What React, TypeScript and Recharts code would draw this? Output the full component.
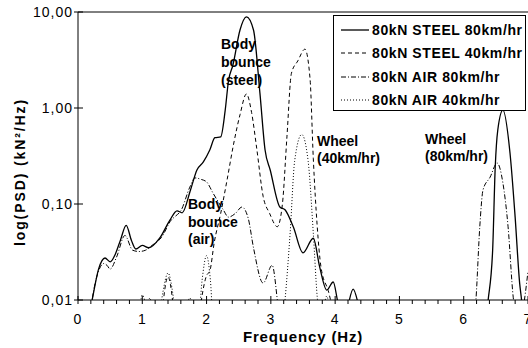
import React from "react";
import { LineChart, Line, XAxis, YAxis, ReferenceLine, Legend } from "recharts";

const FONT = '"Liberation Sans", Arial, sans-serif';

// PSD (kN²/Hz). Values under 0.01 just pull the curve below the axis.
const steel80Freq = [0.1, 0.22, 0.32, 0.42, 0.5, 0.58, 0.66, 0.75, 0.83, 0.9, 1.0, 1.1, 1.27, 1.43, 1.54, 1.62, 1.75, 1.85, 1.95, 2.05, 2.13, 2.22, 2.29, 2.34, 2.41, 2.52, 2.62, 2.73, 2.83, 2.91, 2.99, 3.14, 3.22, 3.35, 3.5, 3.66, 3.76, 3.87, 3.97, 4.05, 4.15, 4.28, 4.38, 4.5, 6.3, 6.38, 6.45, 6.49, 6.53, 6.61, 6.72, 6.8, 6.87, 6.9, 6.95];
const steel80Psd = [0.004, 0.01, 0.021, 0.0274, 0.025, 0.03, 0.042, 0.06, 0.042, 0.034, 0.037, 0.035, 0.044, 0.068, 0.085, 0.081, 0.14, 0.226, 0.274, 0.365, 0.49, 0.5, 0.95, 1.9, 2.8, 6.5, 8.9, 6.5, 1.43, 0.365, 0.226, 0.093, 0.087, 0.0575, 0.031, 0.044, 0.022, 0.0127, 0.0154, 0.009, 0.007, 0.013, 0.008, 0.004, 0.004, 0.01, 0.033, 0.24, 0.59, 0.95, 0.34, 0.073, 0.015, 0.01, 0.004];

const steel40Freq = [1.28, 1.33, 1.4, 1.47, 1.52, 1.85, 1.92, 2.0, 2.05, 2.12, 2.22, 2.32, 2.42, 2.52, 2.62, 2.7, 2.78, 2.88, 2.98, 3.1, 3.18, 3.25, 3.32, 3.42, 3.53, 3.61, 3.66, 3.72, 3.78, 3.9, 4.0];
const steel40Psd = [0.004, 0.01, 0.0174, 0.01, 0.004, 0.004, 0.01, 0.018, 0.02, 0.04, 0.08, 0.18, 0.42, 0.85, 1.4, 0.9, 0.38, 0.12, 0.08, 0.058, 0.1, 0.5, 2.3, 3.1, 4.1, 2.0, 0.3, 0.06, 0.022, 0.012, 0.006];

const air80Freq = [0.15, 0.22, 0.32, 0.4, 0.45, 0.5, 0.6, 0.73, 0.85, 0.95, 1.05, 1.15, 1.3, 1.45, 1.52, 1.6, 1.74, 1.82, 1.92, 2.0, 2.1, 2.26, 2.34, 2.45, 2.55, 2.65, 2.73, 2.88, 3.02, 3.12, 3.2, 6.12, 6.19, 6.25, 6.3, 6.41, 6.52, 6.61, 6.69, 6.77, 6.85, 6.92, 7.0];
const air80Psd = [0.004, 0.01, 0.02, 0.024, 0.023, 0.021, 0.028, 0.047, 0.033, 0.032, 0.033, 0.037, 0.045, 0.068, 0.075, 0.085, 0.15, 0.187, 0.18, 0.17, 0.13, 0.087, 0.073, 0.08, 0.093, 0.07, 0.035, 0.015, 0.023, 0.008, 0.004, 0.004, 0.01, 0.058, 0.14, 0.19, 0.267, 0.165, 0.058, 0.0107, 0.006, 0.008, 0.02];

const air40Freq = [0.93, 1.0, 1.07, 1.12, 1.18, 1.25, 1.32, 1.4, 1.48, 1.55, 1.68, 1.74, 1.8, 1.87, 1.93, 2.0, 2.06, 2.12, 3.15, 3.22, 3.3, 3.37, 3.48, 3.58, 3.66, 3.72, 3.77, 3.83, 3.87, 3.91, 3.97];
const air40Psd = [0.004, 0.0113, 0.009, 0.0105, 0.005, 0.006, 0.012, 0.0191, 0.011, 0.004, 0.008, 0.0105, 0.008, 0.006, 0.016, 0.029, 0.016, 0.004, 0.004, 0.01, 0.05, 0.28, 0.53, 0.28, 0.05, 0.011, 0.006, 0.009, 0.011, 0.008, 0.004];

const seriesNames = ["80kN STEEL 80km/hr", "80kN STEEL 40km/hr", "80kN AIR 80km/hr", "80kN AIR 40km/hr"];

const xTicks = [0, 0.2, 0.4, 0.6, 0.8, 1, 1.2, 1.4, 1.6, 1.8, 2, 2.2, 2.4, 2.6, 2.8, 3, 3.2, 3.4, 3.6, 3.8, 4, 4.2, 4.4, 4.6, 4.8, 5, 5.2, 5.4, 5.6, 5.8, 6, 6.2, 6.4, 6.6, 6.8, 7];
const yTicks = [0.01, 0.1, 1, 10];
const yTickLabels = ["0,01", "0,10", "1,00", "10,00"];

const zip = (f: number[], v: number[]) => f.map((x, i) => ({ f: x, psd: v[i] }));

const series = [
  { name: seriesNames[0], data: zip(steel80Freq, steel80Psd), dash: undefined, width: 1.3 },
  { name: seriesNames[1], data: zip(steel40Freq, steel40Psd), dash: "4 3", width: 1 },
  { name: seriesNames[2], data: zip(air80Freq, air80Psd), dash: "5 2 1 2", width: 1 },
  { name: seriesNames[3], data: zip(air40Freq, air40Psd), dash: "1 2", width: 1 },
];

function XTick(props: any) {
  const { x, y, payload } = props;
  const v = payload.value;
  const major = Math.abs(v - Math.round(v)) < 1e-6;
  return (
    <g>
      <line x1={x} x2={x} y1={major ? y - 4 : y} y2={y + 4} stroke="#000" />
      {major && (
        <text x={x} y={y + 24} textAnchor="middle" fontSize={14} fill="#000" fontFamily={FONT} letterSpacing={1}>
          {Math.round(v)}
        </text>
      )}
    </g>
  );
}

function YTick(props: any) {
  const { x, y, payload, index } = props;
  return (
    <g>
      <line x1={x - 4} x2={x + 5} y1={y} y2={y} stroke="#000" />
      <text x={x - 5} y={y + 5} textAnchor="end" fontSize={14} fill="#000" fontFamily={FONT} letterSpacing={1}>
        {yTickLabels[index] ?? payload.value}
      </text>
    </g>
  );
}

// rotated y title, placed by hand to sit where the original one does
function YTitle() {
  return (
    <text
      x={25}
      y={172}
      transform="rotate(-90 25 172)"
      textAnchor="middle"
      fontFamily={FONT}
      fontWeight={700}
      fontSize={14}
      letterSpacing={1.9}
      fill="#000"
    >
      log(PSD) (kN²/Hz)
    </text>
  );
}

function LegendBox() {
  return (
    <div
      style={{
        boxSizing: "border-box",
        width: 193,
        height: 96,
        border: "1px solid #000",
        background: "#fff",
        paddingTop: 2,
        fontFamily: FONT,
        fontWeight: 700,
        fontSize: 14,
        letterSpacing: 0.6,
      }}
    >
      {series.map((s) => (
        <div key={s.name} style={{ height: 23.5, display: "flex", alignItems: "center", whiteSpace: "nowrap" }}>
          <svg width={30} height={6} style={{ marginLeft: 7, marginRight: 1 }}>
            <line x1={0} x2={28} y1={3} y2={3} stroke="#000" strokeWidth={s.width} strokeDasharray={s.dash} />
          </svg>
          <span>{s.name}</span>
        </div>
      ))}
    </div>
  );
}

const noteStyle: React.CSSProperties = {
  position: "absolute",
  fontFamily: FONT,
  fontWeight: 700,
  fontSize: 14,
  lineHeight: "18px",
  color: "#000",
  whiteSpace: "nowrap",
};

export default function App() {
  return (
    <div style={{ position: "absolute", left: 0, top: 0, width: 528, height: 348, background: "#fff" }}>
      <LineChart width={528} height={348} margin={{ top: 12, right: 0, left: 0, bottom: 0 }}>
        <XAxis
          type="number"
          dataKey="f"
          domain={[0, 7]}
          ticks={xTicks}
          interval={0}
          allowDataOverflow
          height={48}
          tickSize={0}
          tickMargin={0}
          tickLine={false}
          axisLine={{ stroke: "#000" }}
          tick={<XTick />}
          label={{
            value: "Frequency (Hz)",
            position: "insideBottom",
            offset: 6,
            fill: "#000",
            style: { fontFamily: FONT, fontWeight: 700, fontSize: 15, letterSpacing: 0.85 },
          }}
        />
        <YAxis
          type="number"
          scale="log"
          domain={[0.01, 10]}
          ticks={yTicks}
          interval={0}
          allowDataOverflow
          width={78}
          tickSize={0}
          tickMargin={0}
          tickLine={false}
          axisLine={{ stroke: "#000" }}
          tick={<YTick />}
          label={{ content: () => <YTitle /> }}
        />
        <ReferenceLine y={10} stroke="#000" strokeWidth={1} />
        {series.map((s) => (
          <Line
            key={s.name}
            name={s.name}
            data={s.data}
            dataKey="psd"
            type="monotone"
            stroke="#000"
            strokeWidth={s.width}
            strokeDasharray={s.dash}
            dot={false}
            activeDot={false}
            isAnimationActive={false}
          />
        ))}
        <Legend
          layout="vertical"
          align="center"
          verticalAlign="middle"
          wrapperStyle={{ left: 333, top: 15, width: 193, height: 96 }}
          content={() => <LegendBox />}
        />
      </LineChart>
      <div style={{ ...noteStyle, left: 221, top: 35 }}>
        Body
        <br />
        bounce
        <br />
        (steel)
      </div>
      <div style={{ ...noteStyle, left: 188, top: 196, lineHeight: "17.5px" }}>
        Body
        <br />
        bounce
        <br />
        (air)
      </div>
      <div style={{ ...noteStyle, left: 317, top: 133, lineHeight: "17px" }}>
        Wheel
        <br />
        (40km/hr)
      </div>
      <div style={{ ...noteStyle, left: 425, top: 131, lineHeight: "17px" }}>
        Wheel
        <br />
        (80km/hr)
      </div>
    </div>
  );
}
